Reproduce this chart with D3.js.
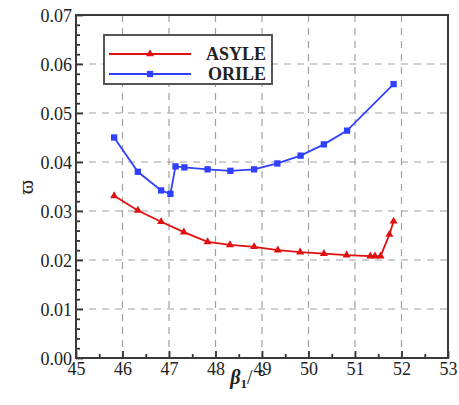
<!DOCTYPE html>
<html>
<head>
<meta charset="utf-8">
<script src="https://cdn.jsdelivr.net/npm/d3@7"></script>
<style>
html,body{margin:0;padding:0;background:#fff;}
svg{display:block;}
</style>
</head>
<body>
<svg id="chart" width="459" height="405"></svg>
<script>
const xTicks = [45,46,47,48,49,50,51,52,53];
const yTicks = [0.00,0.01,0.02,0.03,0.04,0.05,0.06,0.07];
const yTickLabels = ["0.00","0.01","0.02","0.03","0.04","0.05","0.06","0.07"];

const asyleX = [45.82,46.33,46.83,47.32,47.83,48.31,48.83,49.34,49.82,50.33,50.82,51.33,51.43,51.55,51.74,51.83];
const asyleY = [0.0331,0.0301,0.0278,0.0257,0.0237,0.0231,0.0227,0.0220,0.0216,0.0213,0.0210,0.0208,0.0208,0.0208,0.0252,0.0279];

const orileX = [45.82,46.33,46.83,47.03,47.14,47.33,47.83,48.32,48.83,49.33,49.83,50.33,50.83,51.83];
const orileY = [0.0450,0.0380,0.0342,0.0335,0.0391,0.0389,0.0385,0.0382,0.0385,0.0397,0.0413,0.0436,0.0464,0.0559];

const seriesNames = ["ASYLE","ORILE"];

const SERIF = "'Liberation Serif', 'Times New Roman', serif";
const svg = d3.select("#chart");
const L = 76, R = 448, T = 15, B = 358;
const x = d3.scaleLinear().domain([45,53]).range([L,R]);
const y = d3.scaleLinear().domain([0,0.07]).range([B,T]);

// grid
const grid = svg.append("g").attr("stroke","#a0a0a0").attr("stroke-width",1.2).attr("stroke-dasharray","7,6");
grid.selectAll("line.v").data(xTicks.slice(1,-1)).join("line")
  .attr("x1",d=>x(d)).attr("x2",d=>x(d)).attr("y1",T).attr("y2",B);
grid.selectAll("line.h").data(yTicks.slice(1,-1)).join("line")
  .attr("x1",L).attr("x2",R).attr("y1",d=>y(d)).attr("y2",d=>y(d));

// axes
const xAxis = d3.axisBottom(x).tickValues(xTicks).tickSize(-7).tickFormat(d3.format("d")).tickPadding(3);
const gx = svg.append("g").attr("transform",`translate(0,${B})`).call(xAxis);
const xMinor = d3.axisBottom(x).tickValues(d3.range(45.5,53,1)).tickSize(-4).tickFormat("");
svg.append("g").attr("transform",`translate(0,${B})`).call(xMinor);

const yAxis = d3.axisLeft(y).tickValues(yTicks).tickSize(-7).tickFormat((d,i)=>yTickLabels[i]).tickPadding(4);
const gy = svg.append("g").attr("transform",`translate(${L},0)`).call(yAxis);
const yMinorVals = d3.range(0,71,2).filter(v=>v%10!==0).map(v=>v/1000);
const yMinor = d3.axisLeft(y).tickValues(yMinorVals).tickSize(-4).tickFormat("");
svg.append("g").attr("transform",`translate(${L},0)`).call(yMinor);

svg.selectAll(".domain").remove();
svg.selectAll(".tick line").attr("stroke","#333").attr("stroke-width",1.8);
svg.selectAll(".tick text").style("font-family",SERIF).attr("font-size",18).attr("fill","#222");
gx.selectAll(".tick text").attr("dy","0.75em");
gy.selectAll(".tick text").attr("dy","0.35em");

// frame
svg.append("rect").attr("x",L).attr("y",T).attr("width",R-L).attr("height",B-T)
  .attr("fill","none").attr("stroke","#3a3a3a").attr("stroke-width",2);

// lines
const red = "#e01010", blue = "#3040ff";
const lineGen = d3.line().x(d=>x(d[0])).y(d=>y(d[1]));
const asyle = asyleX.map((v,i)=>[v,asyleY[i]]);
const orile = orileX.map((v,i)=>[v,orileY[i]]);

svg.append("path").datum(orile).attr("d",lineGen).attr("fill","none").attr("stroke",blue).attr("stroke-width",1.8);
svg.append("path").datum(asyle).attr("d",lineGen).attr("fill","none").attr("stroke",red).attr("stroke-width",1.8);

const sq = d3.symbol().type(d3.symbolSquare).size(40);
const tri = d3.symbol().type(d3.symbolTriangle).size(28);
svg.append("g").selectAll("path").data(orile).join("path")
  .attr("d",sq).attr("transform",d=>`translate(${x(d[0])},${y(d[1])})`).attr("fill",blue);
svg.append("g").selectAll("path").data(asyle).join("path")
  .attr("d",tri).attr("transform",d=>`translate(${x(d[0])},${y(d[1])})`).attr("fill",red);

// legend
const lg = svg.append("g");
lg.append("rect").attr("x",104).attr("y",35).attr("width",168).attr("height",49)
  .attr("fill","#fff").attr("stroke","#555").attr("stroke-width",2);
const legendItems = [{name:seriesNames[0],color:red,sym:tri,yy:54},{name:seriesNames[1],color:blue,sym:sq,yy:74}];
legendItems.forEach(it=>{
  lg.append("line").attr("x1",109).attr("x2",191).attr("y1",it.yy).attr("y2",it.yy).attr("stroke",it.color).attr("stroke-width",1.8);
  lg.append("path").attr("d",it.sym).attr("transform",`translate(150,${it.yy})`).attr("fill",it.color);
  lg.append("text").attr("x",266).attr("y",it.yy+6).attr("text-anchor","end").style("font-family",SERIF)
    .attr("font-size",18).attr("font-weight","bold").attr("fill","#222").text(it.name);
});

// axis titles
const xt = svg.append("text").attr("x",248).attr("y",384).attr("text-anchor","middle").style("font-family",SERIF)
  .attr("fill","#222").attr("font-size",20);
xt.append("tspan").attr("font-weight","bold").attr("font-style","italic").text("β");
xt.append("tspan").attr("font-weight","bold").attr("font-size",13).attr("dy",4).text("1");
xt.append("tspan").attr("dy",-4).text("/ °");

svg.append("text").attr("transform","translate(25,187) rotate(-90)").attr("text-anchor","middle").attr("dy","0.35em")
  .style("font-family",SERIF).attr("font-size",22).attr("fill","#222").text("ϖ");
</script>
</body>
</html>
